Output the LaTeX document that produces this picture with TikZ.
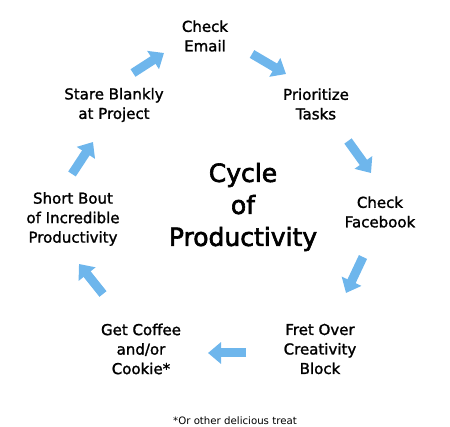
\documentclass[tikz,border=0pt]{standalone}
\usepackage{fontspec}
\setmainfont{DejaVu Sans}[BoldFont={DejaVu Sans},BoldFeatures={FakeBold=1.5}]
\newfontfamily\titlefont{DejaVu Sans}[FakeBold=2.5]
\usetikzlibrary{arrows.meta}
\definecolor{arrowblue}{RGB}{110,182,236}
\tikzset{
  lbl/.style={align=center, font=\fontsize{15}{19.5}\selectfont\bfseries, inner sep=0pt},
  ttl/.style={align=center, font=\titlefont\fontsize{25}{32}\selectfont, inner sep=0pt},
  note/.style={font=\fontsize{10.2}{11}\selectfont, inner sep=0pt},
  blockarrow/.style={draw=arrowblue, line width=9pt, -{Triangle[width=21pt,length=13pt]}}
}
\begin{document}
\begin{tikzpicture}[x=1pt,y=-1pt]
\useasboundingbox (0,0) rectangle (450,427);
\node[lbl] (email) at (205,36) {Check\\Email};
\node[lbl] (prio) at (316,104) {Prioritize\\Tasks};
\node[lbl] (fb) at (380,212) {Check\\Facebook};
\node[lbl] (fret) at (320,349) {Fret Over\\Creativity\\Block};
\node[lbl] (coffee) at (141,349) {Get Coffee\\and/or\\Cookie*};
\node[lbl] (bout) at (73,219) {Short Bout\\of Incredible\\Productivity};
\node[lbl] (stare) at (114,105) {Stare Blankly\\at Project};
\node[ttl] (title) at (243,207) {Cycle\\of\\Productivity};
\node[note] (fn) at (235,421) {*Or other delicious treat};
\coordinate (a1s) at (133,73); \coordinate (a1e) at (164,53);
\coordinate (a2s) at (252,54); \coordinate (a2e) at (286,74);
\coordinate (a3s) at (348,141); \coordinate (a3e) at (371,173);
\coordinate (a4s) at (363,257); \coordinate (a4e) at (346,293);
\coordinate (a5s) at (246,353); \coordinate (a5e) at (208,353);
\coordinate (a6s) at (103,294); \coordinate (a6e) at (79,264);
\coordinate (a7s) at (72,174); \coordinate (a7e) at (93,142);
\draw[blockarrow] (a1s) -- (a1e);
\draw[blockarrow] (a2s) -- (a2e);
\draw[blockarrow] (a3s) -- (a3e);
\draw[blockarrow] (a4s) -- (a4e);
\draw[blockarrow] (a5s) -- (a5e);
\draw[blockarrow] (a6s) -- (a6e);
\draw[blockarrow] (a7s) -- (a7e);
\end{tikzpicture}
\end{document}
